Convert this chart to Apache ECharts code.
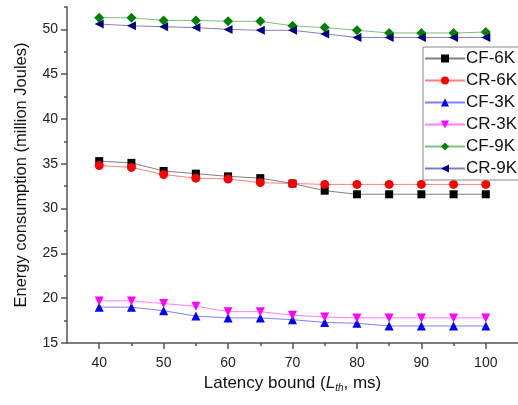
<!DOCTYPE html>
<html>
<head>
<meta charset="utf-8">
<script src="https://cdn.jsdelivr.net/npm/echarts@6/dist/echarts.min.js"></script>
<style>
  html, body { margin: 0; padding: 0; background: #fff; }
  #main { width: 518px; height: 405px; }
</style>
</head>
<body>
<div id="main"></div>
<script>
// latency bound (ms)
var latency = [40, 45, 50, 55, 60, 65, 70, 75, 80, 85, 90, 95, 100];

// energy consumption (million Joules)
var cf6k = [35.3, 35.1, 34.2, 33.9, 33.6, 33.4, 32.8, 32.0, 31.6, 31.6, 31.6, 31.6, 31.6];
var cr6k = [34.8, 34.6, 33.8, 33.4, 33.3, 32.9, 32.8, 32.7, 32.7, 32.7, 32.7, 32.7, 32.7];
var cf3k = [19.0, 19.0, 18.6, 18.0, 17.8, 17.8, 17.6, 17.3, 17.2, 16.9, 16.9, 16.9, 16.9];
var cr3k = [19.7, 19.7, 19.4, 19.1, 18.5, 18.5, 18.1, 17.9, 17.8, 17.8, 17.8, 17.8, 17.8];
var cf9k = [51.3, 51.3, 51.0, 51.0, 50.9, 50.9, 50.4, 50.2, 49.9, 49.6, 49.6, 49.6, 49.7];
var cr9k = [50.6, 50.4, 50.3, 50.2, 50.0, 49.9, 49.9, 49.5, 49.1, 49.1, 49.1, 49.1, 49.1];

// axis ticks
var xMajor = [40, 50, 60, 70, 80, 90, 100];
var xMinor = [45, 55, 65, 75, 85, 95];
var yMajor = [15, 20, 25, 30, 35, 40, 45, 50];
var yMinor = [17.5, 22.5, 27.5, 32.5, 37.5, 42.5, 47.5, 52.5];

function pairs(ys) {
  return latency.map(function (x, i) { return [x, ys[i]]; });
}

function mkSeries(name, ys, color, symbol, size) {
  return {
    name: name,
    type: 'line',
    data: pairs(ys),
    symbol: symbol,
    symbolSize: size,
    itemStyle: { color: color },
    lineStyle: { color: color, width: 1, opacity: 0.5 },
    emphasis: { disabled: true }
  };
}

var font = 'Liberation Sans, Arial, sans-serif';
var axisColor = '#555';

var option = {
  animation: false,
  backgroundColor: '#fff',
  textStyle: { fontFamily: font },
  grid: { left: 67, top: 7, width: 458, height: 336 },
  legend: {
    orient: 'vertical',
    left: 423,
    top: 47,
    itemWidth: 40,
    itemHeight: 10,
    itemGap: 5,
    padding: [3, 20, 3, 1],
    borderColor: '#888',
    borderWidth: 1,
    backgroundColor: '#fff',
    textStyle: { fontFamily: font, fontSize: 17, color: '#111', padding: [0, 0, 0, -4] },
    data: ['CF-6K', 'CR-6K', 'CF-3K', 'CR-3K', 'CF-9K', 'CR-9K']
  },
  xAxis: [{
    type: 'value',
    min: 35,
    max: 105,
    name: '{n|Latency bound (}{i|L}{s|th}{n|, ms)}',
    nameLocation: 'middle',
    nameGap: 29,
    nameTextStyle: {
      rich: {
        n: { fontFamily: font, fontSize: 17, color: '#111' },
        i: { fontFamily: font, fontSize: 17, fontStyle: 'italic', color: '#111' },
        s: { fontFamily: font, fontSize: 10, fontStyle: 'italic', color: '#111', padding: [9, 0, 0, 0] }
      }
    },
    axisLine: { lineStyle: { color: axisColor, width: 1.5 } },
    axisTick: { customValues: xMajor, length: 6, lineStyle: { color: axisColor, width: 1.5 } },
    axisLabel: { customValues: xMajor, fontSize: 14, color: '#222', margin: 13 },
    splitLine: { show: false }
  }, {
    type: 'value',
    min: 35,
    max: 105,
    position: 'bottom',
    axisLine: { show: false },
    axisTick: { customValues: xMinor, length: 3, lineStyle: { color: axisColor, width: 1.5 } },
    axisLabel: { show: false },
    splitLine: { show: false }
  }],
  yAxis: [{
    type: 'value',
    min: 15,
    max: 52.5,
    name: 'Energy consumption (million Joules)',
    nameLocation: 'middle',
    nameGap: 37,
    nameTextStyle: { fontFamily: font, fontSize: 16.5, color: '#111' },
    axisLine: { show: true, lineStyle: { color: axisColor, width: 1.5 } },
    axisTick: { show: true, customValues: yMajor, length: 6, lineStyle: { color: axisColor, width: 1.5 } },
    axisLabel: { customValues: yMajor, fontSize: 14, color: '#222', margin: 9 },
    splitLine: { show: false }
  }, {
    type: 'value',
    min: 15,
    max: 52.5,
    position: 'left',
    axisLine: { show: false },
    axisTick: { show: true, customValues: yMinor, length: 3, lineStyle: { color: axisColor, width: 1.5 } },
    axisLabel: { show: false },
    splitLine: { show: false }
  }],
  series: [
    mkSeries('CF-6K', cf6k, '#000000', 'rect', 8),
    mkSeries('CR-6K', cr6k, '#ff0000', 'circle', 9),
    mkSeries('CF-3K', cf3k, '#0000ff', 'triangle', 9),
    mkSeries('CR-3K', cr3k, '#ff00ff', 'path://M0,0 L10,0 L5,10 Z', 9),
    mkSeries('CF-9K', cf9k, '#008000', 'diamond', 10),
    mkSeries('CR-9K', cr9k, '#000080', 'path://M0,5 L10,0 L10,10 Z', 9)
  ]
};

var chart = echarts.init(document.getElementById('main'));
chart.setOption(option);
</script>
</body>
</html>
